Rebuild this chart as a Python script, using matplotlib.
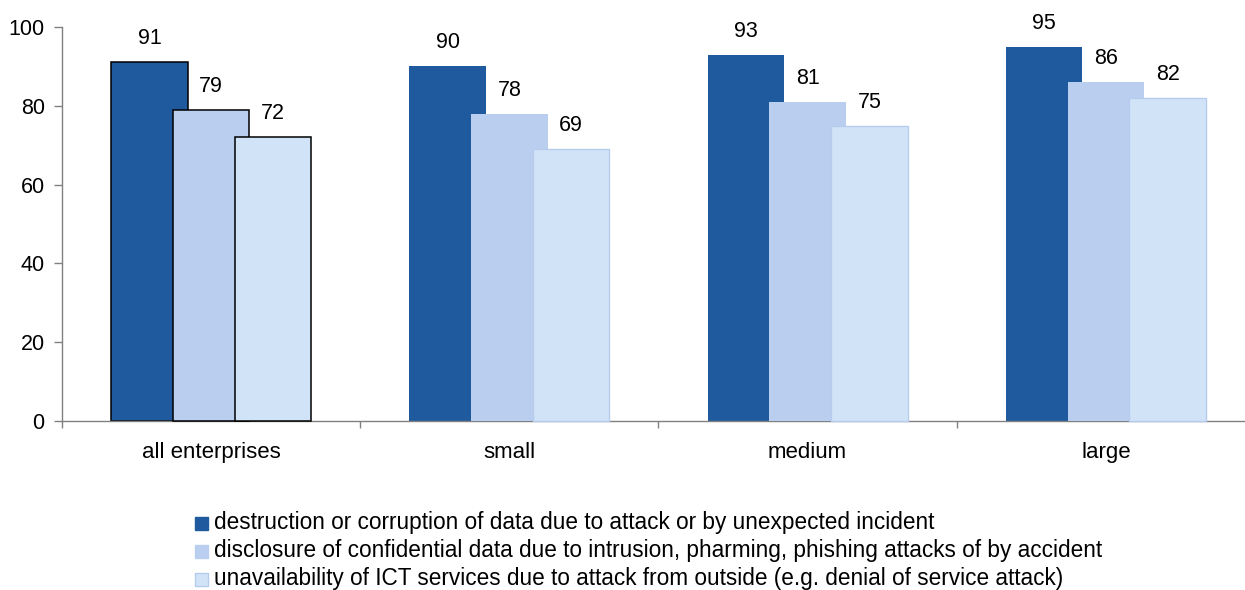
import matplotlib
matplotlib.use("Agg")
import matplotlib.pyplot as plt
from matplotlib.patches import Rectangle

# Share of enterprises by size class, per type of ICT security incident
categories = ["all enterprises", "small", "medium", "large"]
destruction = [91, 90, 93, 95]
disclosure = [79, 78, 81, 86]
unavailability = [72, 69, 75, 82]

series_names = [
    "destruction or corruption of data due to attack or by unexpected incident",
    "disclosure of confidential data due to intrusion, pharming, phishing attacks of by accident",
    "unavailability of ICT services due to attack from outside (e.g. denial of service attack)",
]
series_values = [destruction, disclosure, unavailability]
fill_colors = ["#1F5A9F", "#BACEF0", "#D1E4F7"]
edge_colors = ["none", "none", "#B7CBEE"]

plt.rcParams["font.family"] = ["Liberation Sans", "DejaVu Sans"]

W, H = 1245, 590
fig = plt.figure(figsize=(W / 100, H / 100), dpi=100)

# axes box in pixel terms: x axis at y=421, 100 at y=27, y axis at x=62
left_px, right_px, top_px, bot_px = 62, 1255, 27, 421
ax = fig.add_axes([left_px / W, 1 - bot_px / H,
                   (right_px - left_px) / W, (bot_px - top_px) / H])

bar_w = 0.257
step = 0.207
x = list(range(len(categories)))

for s, (vals, fc, ec) in enumerate(zip(series_values, fill_colors, edge_colors)):
    offs = (s - 1) * step
    for i, v in enumerate(vals):
        if i == 0:
            edge, lw = "black", 1.1
        else:
            edge, lw = ec, 1.0
        ax.bar(x[i] + offs, v, width=bar_w, color=fc, edgecolor=edge,
               linewidth=lw, zorder=2 + s, clip_on=False)
        ax.annotate(f"{v}", (x[i] + offs, v), xytext=(0, 18),
                    textcoords="offset pixels", ha="center", va="baseline",
                    fontsize=15.5, color="black", zorder=10)

ax.set_xlim(-0.5, len(categories) - 0.5)
ax.set_ylim(0, 100)
ax.set_yticks([0, 20, 40, 60, 80, 100])
ax.tick_params(axis="y", direction="out", length=6, width=1, color="#808080",
               pad=6.5, labelsize=15.5)

ax.set_xticks([i - 0.5 for i in range(len(categories) + 1)])
ax.set_xticklabels([])
ax.set_xticks(x, minor=True)
ax.set_xticklabels(categories, minor=True)
ax.tick_params(axis="x", which="major", direction="out", length=5, width=1,
               color="#808080")
ax.tick_params(axis="x", which="minor", length=0, pad=15, labelsize=16)

for side in ("top", "right"):
    ax.spines[side].set_visible(False)
for side in ("left", "bottom"):
    ax.spines[side].set_color("#808080")
    ax.spines[side].set_linewidth(1)

# legend drawn below the plot area, one row per series
row_tops = [517, 545, 573]
for name, fc, ec, top in zip(series_names, fill_colors, edge_colors, row_tops):
    sq = Rectangle((195 / W, 1 - (top + 13) / H), 13 / W, 13 / H,
                   transform=fig.transFigure, facecolor=fc,
                   edgecolor=(ec if ec != "none" else fc), linewidth=1)
    fig.add_artist(sq)
    fig.text(214 / W, 1 - (top + 12) / H, name, ha="left", va="baseline",
             fontsize=16.3)

fig.savefig("out.png", dpi=100)
